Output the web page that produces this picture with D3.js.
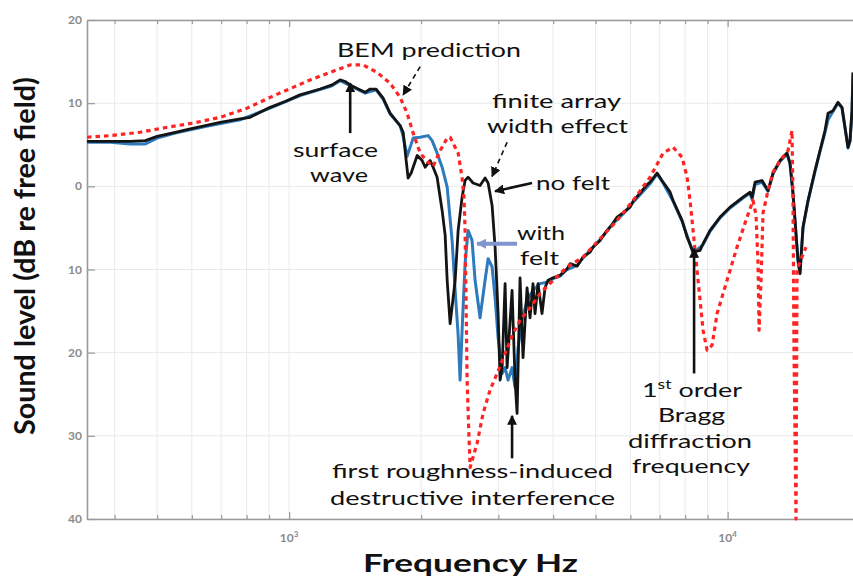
<!DOCTYPE html>
<html>
<head>
<meta charset="utf-8">
<script src="https://cdn.jsdelivr.net/npm/d3@7"></script>
<style>
  body { margin: 0; background: #fff; }
  svg { display: block; }
</style>
</head>
<body>
<svg id="chart" width="853" height="576"></svg>
<script>
// Measured response without felt (Hz, dB re free field)
const noFeltFreq = [346, 391, 434, 470, 500, 550, 595, 644, 696, 773, 815, 850, 905, 979, 1059, 1177, 1253, 1307, 1342, 1378, 1437, 1491, 1530, 1579, 1638, 1699, 1791, 1820, 1849, 1868, 1898, 1959, 2011, 2043, 2097, 2130, 2175, 2233, 2269, 2293, 2329, 2391, 2429, 2480, 2519, 2559, 2627, 2725, 2798, 2843, 2903, 2949, 2996, 3028, 3060, 3108, 3141, 3224, 3275, 3310, 3362, 3415, 3488, 3543, 3599, 3637, 3695, 3773, 3833, 3894, 3998, 4148, 4304, 4372, 4536, 4681, 4857, 4934, 5119, 5310, 5451, 5596, 5806, 5992, 6087, 6314, 6551, 6655, 6904, 7125, 7392, 7509, 7872, 8082, 8340, 8652, 8790, 9119, 9610, 10127, 10842, 11248, 11366, 11547, 11979, 12363, 12691, 13165, 13657, 13874, 14094, 14469, 14622, 14854, 15250, 15821, 16242, 16673, 16938, 17388, 17851, 18230, 18519, 18813, 19012, 19212, 19313];
const noFeltLevel = [5.4, 5.4, 5.4, 5.5, 6.0, 6.5, 6.9, 7.3, 7.7, 8.1, 8.3, 8.8, 9.5, 10.2, 11.0, 11.7, 12.2, 12.8, 12.6, 12.2, 11.7, 11.3, 11.7, 11.7, 10.6, 8.8, 7.3, 6.5, 3.1, 1.0, 1.6, 3.7, 3.1, 2.3, 3.1, 2.3, 1.1, -2.9, -5.9, -11.3, -16.5, -11.3, -5.3, -1.3, 0.7, 1.1, 0.4, 0.1, 1.0, 0.4, -2.3, -7.3, -15.3, -23.3, -21.8, -11.7, -21.8, -12.5, -23.3, -27.3, -11.0, -20.6, -12.2, -15.8, -11.7, -15.3, -11.7, -15.3, -12.2, -11.3, -11.0, -10.7, -9.9, -9.3, -9.6, -8.5, -7.9, -7.3, -6.5, -5.3, -4.6, -3.7, -3.1, -2.5, -1.8, -0.8, 0.2, 0.5, 1.6, 0.5, -0.7, -1.7, -4.1, -6.1, -7.9, -7.7, -6.9, -5.3, -3.7, -2.5, -1.3, -0.7, -1.3, 0.5, 0.7, -0.5, 1.6, 3.1, 4.0, 2.8, -0.8, -8.9, -10.5, -4.9, -1.7, 1.9, 4.3, 6.7, 8.8, 9.1, 10.1, 9.5, 7.1, 4.7, 5.5, 9.1, 13.7];

// Measured response with felt (Hz, dB re free field)
const withFeltFreq = [346, 391, 434, 470, 500, 550, 644, 773, 905, 1059, 1253, 1307, 1378, 1491, 1579, 1638, 1699, 1791, 1820, 1858, 1918, 1990, 2075, 2119, 2164, 2233, 2293, 2353, 2391, 2429, 2454, 2480, 2519, 2559, 2613, 2655, 2725, 2798, 2843, 2903, 2949, 2996, 3060, 3108, 3157, 3224, 3275, 3327, 3398, 3488, 3599, 3734, 3894, 3998, 4148, 4304, 4536, 4681, 4934, 5119, 5451, 5806, 6087, 6314, 6655, 6904, 7125, 7509, 7872, 8340, 8790, 9119, 9610, 10127, 10842, 11248, 11366, 11547, 11979, 12363, 12691, 13165, 13657, 13874, 14094, 14469, 14622, 14854, 15250, 15821, 16242, 16673, 16938, 17388, 17851, 18230, 18519, 18813, 19012, 19212, 19313];
const withFeltLevel = [5.3, 5.3, 5.1, 5.1, 5.8, 6.4, 7.2, 8.0, 9.4, 10.9, 12.1, 12.7, 12.1, 11.2, 11.6, 10.5, 8.7, 7.3, 6.0, 3.6, 5.8, 5.9, 6.1, 5.5, 4.3, 2.3, -0.1, -6.5, -12.5, -17.9, -23.3, -17.3, -9.3, -5.3, -6.5, -11.3, -15.8, -11.3, -8.7, -9.7, -13.4, -18.2, -22.5, -21.8, -23.3, -21.8, -24.2, -19.4, -16.1, -13.7, -12.5, -11.7, -11.5, -11.1, -10.8, -10.0, -9.5, -8.6, -7.3, -6.4, -4.6, -3.2, -1.9, -1.0, 0.3, 1.5, 0.4, -1.8, -4.2, -8.0, -7.0, -5.4, -3.8, -2.6, -1.4, -0.8, -1.6, 0.2, 0.5, -0.6, 1.5, 3.0, 3.9, 2.7, -0.9, -9.0, -10.4, -5.0, -1.8, 1.8, 4.2, 6.5, 8.0, 9.0, 10.0, 9.4, 7.0, 4.6, 5.4, 9.0, 13.6];

// BEM prediction (Hz, dB re free field)
const bemFreq = [346, 391, 457, 527, 604, 696, 802, 905, 1021, 1117, 1240, 1378, 1475, 1587, 1699, 1791, 1858, 1918, 1990, 2064, 2130, 2210, 2293, 2329, 2391, 2429, 2480, 2506, 2519, 2532, 2546, 2573, 2587, 2683, 2769, 2872, 2980, 3108, 3241, 3362, 3543, 3734, 3998, 4304, 4681, 5119, 5596, 6087, 6655, 7125, 7509, 7872, 8082, 8209, 8340, 8561, 8790, 8976, 9215, 9460, 9969, 10506, 11072, 11427, 11608, 11730, 11792, 11916, 12042, 12363, 12691, 13165, 13729, 14020, 14094, 14168, 14318, 14393, 14854, 15090];
const bemLevel = [5.9, 6.1, 6.5, 7.1, 7.6, 8.3, 9.4, 10.7, 11.9, 12.8, 13.7, 14.6, 14.6, 13.7, 12.4, 10.7, 8.8, 6.4, 4.0, 3.0, 2.4, 4.3, 5.8, 5.9, 4.7, 4.0, 1.0, -1.5, -5.3, -13.7, -23.3, -30.6, -33.8, -30.9, -27.3, -24.5, -22.5, -20.1, -17.7, -16.1, -14.6, -12.9, -11.3, -9.7, -8.5, -6.3, -4.1, -1.7, 1.1, 4.0, 4.7, 3.5, 1.1, -1.7, -5.3, -11.3, -17.3, -19.7, -19.1, -15.3, -11.3, -7.3, -3.7, -1.7, -3.5, -9.3, -17.3, -11.3, -3.2, -0.5, 1.7, 3.1, 4.3, 6.7, -1.7, -19.7, -40.0, -10.0, -8.2, -7.3];

// Axis ticks and their printed labels
const levelTicks = [20, 10, 0, -10, -20, -30, -40];
const levelTickLabels = ["20", "10", "0", "10", "20", "30", "40"];
const decadeTicks = [1000, 10000];
const decadeTickLabels = [["10", "3"], ["10", "4"]];

const plot = { left: 87, top: 20, right: 853, bottom: 519 };
const svg = d3.select("#chart");

const x = d3.scaleLog().domain([346, 19313]).range([plot.left, plot.right]);
const y = d3.scaleLinear().domain([20, -40]).range([plot.top, plot.bottom]);

const zip = (f, v) => f.map((d, i) => ({ f: d, v: v[i] }));
const noFelt = zip(noFeltFreq, noFeltLevel);
const withFelt = zip(withFeltFreq, withFeltLevel);
const bem = zip(bemFreq, bemLevel);

const minorTicks = x.ticks().filter(d => d >= 346 && d <= 19313);

// grid
const grid = svg.append("g").attr("stroke", "#e9e9e9").attr("stroke-width", 1);
grid.selectAll("line.v").data(minorTicks).join("line")
  .attr("x1", d => x(d)).attr("x2", d => x(d))
  .attr("y1", plot.top).attr("y2", plot.bottom);
grid.selectAll("line.h").data(levelTicks).join("line")
  .attr("x1", plot.left).attr("x2", plot.right)
  .attr("y1", d => y(d)).attr("y2", d => y(d));

// axes (inward ticks, no labels; labels drawn below)
const axisColor = "#9a9a9a";
const bottomAxis = svg.append("g").attr("transform", `translate(0,${plot.bottom})`)
  .call(d3.axisBottom(x).tickValues(minorTicks).tickSize(-4).tickSizeOuter(0).tickFormat(""));
const topAxis = svg.append("g").attr("transform", `translate(0,${plot.top})`)
  .call(d3.axisTop(x).tickValues(minorTicks).tickSize(-4).tickSizeOuter(0).tickFormat(""));
const leftAxis = svg.append("g").attr("transform", `translate(${plot.left},0)`)
  .call(d3.axisLeft(y).tickValues(levelTicks).tickSize(-8).tickSizeOuter(0).tickFormat(""));
[bottomAxis, topAxis, leftAxis].forEach(g => {
  g.select(".domain").attr("stroke", axisColor).attr("stroke-width", 1.6);
  g.selectAll(".tick line").attr("stroke", axisColor).attr("stroke-width", 1.2);
});
bottomAxis.selectAll(".tick").filter(d => decadeTicks.includes(d)).select("line").attr("y2", -7);
topAxis.selectAll(".tick").filter(d => decadeTicks.includes(d)).select("line").attr("y2", 7);

// tick labels
const tickFont = "Lato, 'Open Sans', sans-serif";
svg.append("g").selectAll("text").data(levelTicks).join("text")
  .attr("x", plot.left - 5).attr("y", d => y(d) + 4)
  .attr("text-anchor", "end")
  .attr("font-family", tickFont).attr("font-weight", 700).attr("font-size", 12)
  .attr("fill", "#8a8a8a")
  .text((d, i) => levelTickLabels[i]);
const decLabels = svg.append("g").selectAll("text").data(decadeTicks).join("text")
  .attr("x", d => x(d)).attr("y", 542)
  .attr("text-anchor", "middle")
  .attr("font-family", tickFont).attr("font-weight", 700).attr("font-size", 12)
  .attr("fill", "#8a8a8a");
decLabels.append("tspan").text((d, i) => decadeTickLabels[i][0]);
decLabels.append("tspan").attr("dy", -5).attr("font-size", 8).text((d, i) => decadeTickLabels[i][1]);

// curves
svg.append("clipPath").attr("id", "plotClip").append("rect")
  .attr("x", plot.left).attr("y", plot.top - 2)
  .attr("width", plot.right - plot.left).attr("height", plot.bottom - plot.top + 4);
const line = d3.line().x(d => x(d.f)).y(d => y(d.v));
const curves = svg.append("g").attr("clip-path", "url(#plotClip)")
  .attr("fill", "none").attr("stroke-linejoin", "round");
curves.append("path").datum(withFelt).attr("d", line)
  .attr("stroke", "#2d7bbd").attr("stroke-width", 3);
curves.append("path").datum(noFelt).attr("d", line)
  .attr("stroke", "#141414").attr("stroke-width", 2.8);
curves.append("path").datum(bem).attr("d", line)
  .attr("stroke", "#ff2424").attr("stroke-width", 3.2)
  .attr("stroke-dasharray", "4.5,4");

// arrows (tail and tip in Hz / dB)
const defs = svg.append("defs");
function marker(id, color) {
  defs.append("marker").attr("id", id)
    .attr("viewBox", "0 0 10 10").attr("refX", 9).attr("refY", 5)
    .attr("markerWidth", 10).attr("markerHeight", 10)
    .attr("markerUnits", "userSpaceOnUse").attr("orient", "auto")
    .append("path").attr("d", "M0,0 L10,5 L0,10 Z").attr("fill", color);
}
marker("headBlack", "#111");
marker("headBlue", "#7f95cf");
const arrows = [
  { f1: 1990, v1: 14.4, f2: 1820, v2: 11.0, dash: "5,4", head: "headBlack", color: "#111", w: 1.6 },
  { f1: 1378, v1: 6.4, f2: 1378, v2: 12.4, head: "headBlack", color: "#111", w: 2.6 },
  { f1: 3141, v1: 5.3, f2: 2903, v2: 1.2, dash: "5,4", head: "headBlack", color: "#111", w: 1.6 },
  { f1: 3581, v1: 0.4, f2: 2949, v2: -0.6, head: "headBlack", color: "#111", w: 2.6 },
  { f1: 3310, v1: -6.9, f2: 2683, v2: -6.9, head: "headBlue", color: "#7f95cf", w: 4 },
  { f1: 3224, v1: -32.7, f2: 3224, v2: -27.6, head: "headBlack", color: "#111", w: 2.6 },
  { f1: 8384, v1: -22.5, f2: 8384, v2: -7.5, head: "headBlack", color: "#111", w: 2.6 }
];
svg.append("g").selectAll("line").data(arrows).join("line")
  .attr("x1", d => x(d.f1)).attr("y1", d => y(d.v1))
  .attr("x2", d => x(d.f2)).attr("y2", d => y(d.v2))
  .attr("stroke", d => d.color).attr("stroke-width", d => d.w)
  .attr("stroke-dasharray", d => d.dash || null)
  .attr("marker-end", d => `url(#${d.head})`);

// annotations
const noteFont = "Lato, 'Open Sans', sans-serif";
const notes = [
  { t: "BEM prediction", x: 337, y: 57, w: 184 },
  { t: "surface", x: 293, y: 157, w: 85 },
  { t: "wave", x: 310, y: 182, w: 58 },
  { t: "finite array", x: 492, y: 108, w: 129 },
  { t: "width effect", x: 487, y: 133, w: 141 },
  { t: "no felt", x: 536, y: 190, w: 74 },
  { t: "with", x: 517, y: 240, w: 48 },
  { t: "felt", x: 520, y: 265, w: 39 },
  { t: "Bragg", x: 658, y: 422, w: 67 },
  { t: "diffraction", x: 628, y: 448, w: 124 },
  { t: "frequency", x: 632, y: 473, w: 118 },
  { t: "first roughness-induced", x: 332, y: 478, w: 281 },
  { t: "destructive interference", x: 330, y: 505, w: 285 }
];
const noteG = svg.append("g").attr("font-family", noteFont).attr("font-size", 20).attr("fill", "#111");
noteG.selectAll("text").data(notes).join("text")
  .attr("x", d => d.x).attr("y", d => d.y)
  .attr("textLength", d => d.w).attr("lengthAdjust", "spacingAndGlyphs")
  .text(d => d.t);
const order = noteG.append("text").attr("x", 642).attr("y", 397)
  .attr("textLength", 100).attr("lengthAdjust", "spacingAndGlyphs");
order.append("tspan").text("1");
order.append("tspan").attr("dy", -8).attr("font-size", 13).text("st");
order.append("tspan").attr("dy", 8).text(" order");

// axis titles
svg.append("text")
  .attr("x", 363).attr("y", 572)
  .attr("font-family", noteFont).attr("font-weight", 700).attr("font-size", 24)
  .attr("fill", "#111")
  .attr("textLength", 215).attr("lengthAdjust", "spacingAndGlyphs")
  .text("Frequency Hz");
svg.append("text")
  .attr("transform", "translate(35,256) scale(1.25,1) rotate(-90)")
  .attr("x", -179).attr("y", 0)
  .attr("font-family", noteFont).attr("font-weight", 700).attr("font-size", 23)
  .attr("fill", "#111")
  .attr("textLength", 358).attr("lengthAdjust", "spacingAndGlyphs")
  .text("Sound level (dB re free field)");
</script>
</body>
</html>
